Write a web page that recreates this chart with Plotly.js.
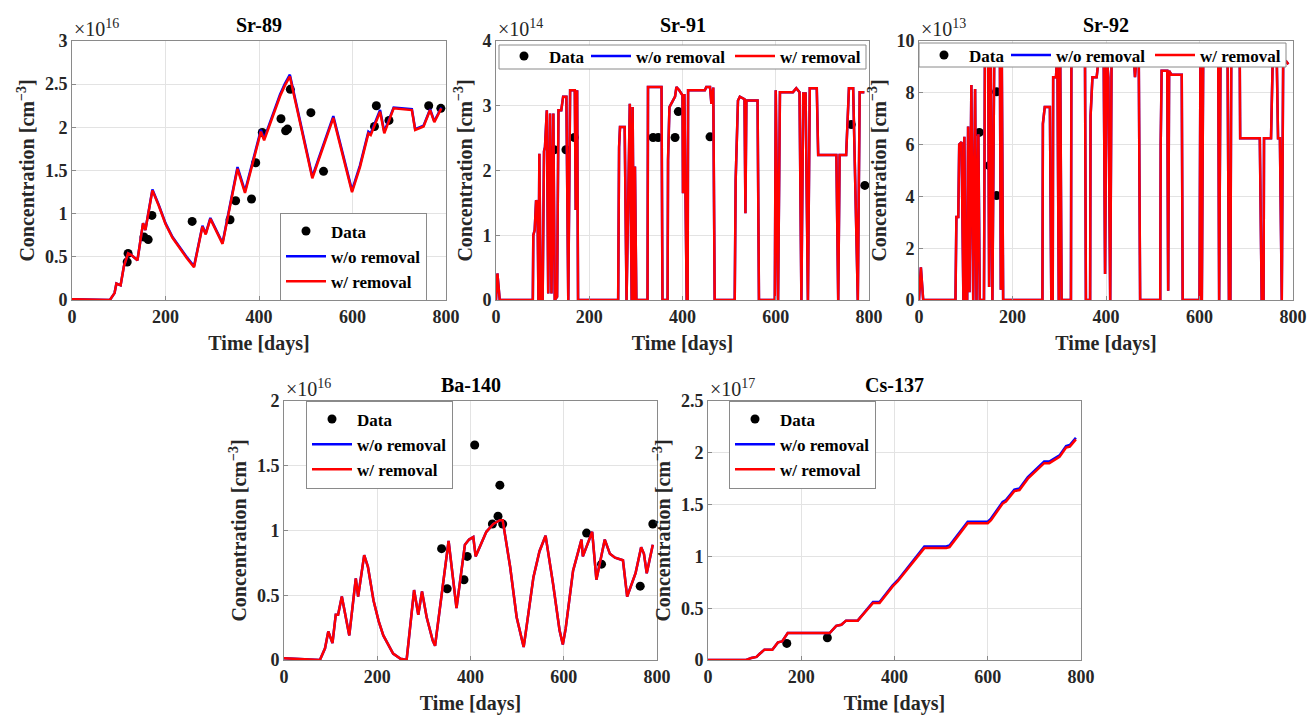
<!DOCTYPE html>
<html><head><meta charset="utf-8">
<script src="https://cdn.plot.ly/plotly-3.0.1.min.js"></script>
<style>html,body{margin:0;padding:0;background:#fff}#chart{width:1309px;height:715px}</style>
</head><body><div id="chart"></div>
<script>
// ---------------- DATA ----------------
const panelTitles = ['Sr-89', 'Sr-91', 'Sr-92', 'Ba-140', 'Cs-137'];
const exponents = ['16', '14', '13', '16', '17'];
const xTicks = [0, 200, 400, 600, 800];

// Sr-89 (x1e16)
const t89 = [0,81,91,95,104,111,120,127,140,152,157,163,172,185,200,215,230,245,261,279,286,296,322,354,370,395,404,411,424,435,445,455,466,490,514,559,599,616,634,639,659,668,688,727,734,752,766,775,790];
const red89 = [0.01,0,0.08,0.19,0.17,0.39,0.54,0.52,0.46,0.89,0.81,1.0,1.27,1.1,0.88,0.72,0.6,0.49,0.38,0.85,0.76,0.94,0.65,1.52,1.24,1.74,1.95,1.85,2.04,2.22,2.36,2.48,2.59,2.0,1.41,2.11,1.25,1.54,1.93,1.91,2.18,1.93,2.22,2.2,1.97,2.01,2.2,2.06,2.22];
const blue89 = [0.01,0,0.08,0.19,0.17,0.39,0.54,0.52,0.46,0.89,0.81,1.0,1.28,1.11,0.89,0.73,0.61,0.5,0.39,0.86,0.77,0.95,0.66,1.54,1.26,1.76,1.97,1.87,2.06,2.24,2.38,2.5,2.61,2.02,1.43,2.13,1.27,1.56,1.95,1.93,2.2,1.95,2.23,2.21,1.98,2.02,2.21,2.07,2.23];
const t89data = [118,120,154,163,171,257,338,350,384,393,407,447,457,461,467,511,538,647,651,678,763,789];
const v89data = [0.44,0.54,0.73,0.70,0.98,0.91,0.93,1.15,1.17,1.59,1.94,2.10,1.96,1.98,2.44,2.17,1.49,2.01,2.25,2.08,2.25,2.22];

// Sr-91 (x1e14)
const t91 = [0,3,8,79,80,83,86,89,91,93,96,100,103,105,109,112,116,119,123,126,131,134,140,144,151,155,159,169,171,174,176,262,264,266,276,280,287,291,293,296,298,301,325,326,355,357,368,369,372,380,384,387,393,400,401,404,409,411,412,448,451,459,462,466,469,512,514,519,523,533,535,537,561,564,598,600,605,609,637,644,651,655,659,664,669,673,688,691,730,734,737,751,757,766,769,776,780,790];
const red91 = [0,0.41,0,0,1.0,1.08,1.54,1.5,0,2.26,0,0,2.3,2.36,2.93,0.1,2.88,0.1,2.88,0,0.05,2.93,2.93,3.14,3.14,0,3.24,3.24,1.39,3.24,0,0,2.36,2.67,2.67,0,3.03,0,2.98,0,2.06,0,0,3.29,3.29,0,0,2.16,2.98,3.08,3.14,3.29,3.24,3.16,1.65,3.18,0,0,3.24,3.24,3.29,3.29,3.03,3.28,0,0,1.85,3.08,3.14,3.1,1.34,3.08,3.08,0,0,3.24,0,3.21,3.21,3.27,3.21,0,3.19,3.19,0,3.27,3.27,2.24,2.24,0,2.24,2.24,3.27,3.27,2.21,0,3.21,3.21];
const blue91 = red91;
const t91data = [125,150,168,337,348,384,391,459,762,791];
const v91data = [2.32,2.32,2.51,2.51,2.51,2.51,2.91,2.52,2.71,1.77];

// Sr-92 (x1e13)
const t92 = [0,4,9,78,80,84,86,91,95,97,100,103,105,108,112,116,120,123,127,130,139,141,148,150,153,157,161,173,175,177,180,264,265,269,280,283,286,287,293,296,299,302,305,325,326,355,357,366,367,371,380,383,386,395,398,401,405,409,412,459,462,466,470,473,516,517,519,531,533,535,540,562,564,600,602,605,608,640,642,645,660,663,666,668,686,687,729,733,737,738,753,757,765,768,772,776,779,786,790];
const red92 = [0,1.26,0,0,3.2,3.2,6.0,6.1,0,6.3,0,0,6.7,0.3,8.3,0,8.15,0,6.4,0,0,9.6,9.6,0.5,9.6,0,9.6,9.6,0.4,9.6,0,0,6.8,7.45,7.45,0,0,8.6,8.6,9.6,0,9.6,0,0,9.6,9.6,0,0,7.1,8.6,8.6,9.0,9.6,9.6,1.0,9.6,8.6,0,9.6,9.6,8.6,9.6,9.6,0,0,6.0,8.85,8.85,0.36,8.85,8.7,8.7,0,0,9.6,0,9.6,9.6,0,9.6,9.6,0,0,9.6,9.6,6.25,6.25,0,0,6.25,6.25,9.6,9.6,6.25,6.25,0,9.3,9.2,9.1];
const blue92 = red92;
const t92data = [129,150,166,166];
const v92data = [6.47,5.19,8.04,4.03];

// Ba-140 (x1e16)
const t140 = [0,77,88,95,104,111,116,124,140,154,159,172,180,192,203,213,234,250,263,279,288,296,306,319,324,353,370,388,397,406,411,420,434,449,463,469,485,499,514,518,535,548,561,577,591,598,604,620,638,641,661,670,688,699,710,727,736,754,766,772,778,791];
const red140 = [0.013,0,0.09,0.22,0.13,0.35,0.35,0.49,0.19,0.63,0.49,0.81,0.72,0.46,0.3,0.19,0.05,0.01,0,0.54,0.35,0.53,0.33,0.15,0.11,0.92,0.40,0.89,0.93,0.95,0.80,0.875,0.99,1.05,1.08,1.08,0.72,0.33,0.10,0.2,0.64,0.84,0.96,0.59,0.23,0.12,0.24,0.69,0.93,0.80,0.99,0.62,0.93,0.82,0.79,0.77,0.49,0.67,0.87,0.82,0.67,0.89];
const blue140 = red140;
const t140data = [338,350,386,393,409,447,459,463,469,649,681,764,791];
const v140data = [0.86,0.55,0.62,0.80,1.66,1.05,1.11,1.35,1.05,0.98,0.74,0.57,1.05];

// Cs-137 (x1e17)
const t137 = [0,82,93,104,111,121,138,150,159,171,261,275,286,296,321,354,368,396,407,464,511,518,557,600,607,632,639,657,668,686,721,732,754,768,776,789];
const red137 = [0,0,0.02,0.03,0.06,0.1,0.1,0.17,0.18,0.26,0.26,0.33,0.34,0.38,0.38,0.55,0.55,0.71,0.76,1.08,1.08,1.09,1.32,1.32,1.35,1.51,1.53,1.63,1.64,1.75,1.90,1.90,1.96,2.05,2.06,2.13];
const blue137 = [0,0,0.02,0.03,0.06,0.1,0.1,0.17,0.18,0.26,0.26,0.33,0.34,0.38,0.38,0.56,0.56,0.72,0.77,1.095,1.095,1.105,1.335,1.335,1.365,1.525,1.545,1.645,1.655,1.765,1.915,1.915,1.975,2.065,2.075,2.145];
const t137data = [169,256];
const v137data = [0.16,0.215];

const yRanges = [[0,3],[0,4],[0,10],[0,2],[0,2.5]];
const yDticks = [0.5,1,2,0.5,0.5];

// ---------------- LAYOUT GEOMETRY (pixels) ----------------
const W = 1309, H = 715;
const boxes = [ // plot areas: [left, right, top, bottom]
  [72, 446, 41, 300],
  [496, 869, 41, 300],
  [919, 1293, 41, 300],
  [284, 657, 401, 660],
  [708, 1081, 401, 660]
];
// legends: [left, anchor y, orientation, frame box (horizontal only) [x0,y0,x1,y1]]
const legendPos = [
  [280, 256.5, 'v', null],
  [499, 38.5, 'h', [499, 45, 866, 69]],
  [919, 37.5, 'h', [919, 43, 1286, 67]],
  [306, 444.5, 'v', null],
  [729, 444.5, 'v', null]
];
const entryWidths = [32, 89, 82]; // Data, w/o removal, w/ removal (horizontal legends)

const FONT = 'Liberation Serif, Times New Roman, serif';
const series = [
  [t89data, v89data, t89, blue89, red89],
  [t91data, v91data, t91, blue91, red91],
  [t92data, v92data, t92, blue92, red92],
  [t140data, v140data, t140, blue140, red140],
  [t137data, v137data, t137, blue137, red137]
];

const traces = [];
const layout = {
  width: W, height: H,
  margin: {l: 0, r: 0, t: 0, b: 0},
  paper_bgcolor: '#fff', plot_bgcolor: '#fff',
  font: {family: FONT, color: '#000'},
  showlegend: true,
  annotations: [],
  shapes: []
};

series.forEach((s, i) => {
  const n = i + 1;
  const xa = n === 1 ? 'x' : 'x' + n;
  const ya = n === 1 ? 'y' : 'y' + n;
  const lg = n === 1 ? 'legend' : 'legend' + n;
  const lp = legendPos[i];
  const horiz = lp[2] === 'h';
  const tr = [
    {x: s[0], y: s[1], mode: 'markers', name: 'Data', marker: {color: '#000', size: 9}},
    {x: s[2], y: s[3], mode: 'lines', name: 'w/o removal', line: {color: '#0000ff', width: 2.5}},
    {x: s[2], y: s[4], mode: 'lines', name: 'w/ removal', line: {color: '#ff0000', width: 2.5}}
  ];
  tr.forEach((t, k) => {
    t.xaxis = xa; t.yaxis = ya; t.legend = lg;
    if (horiz) t.legendwidth = entryWidths[k];
    traces.push(t);
  });

  const b = boxes[i];
  const axCommon = {
    showline: true, mirror: true, linecolor: '#8a8a8a', linewidth: 1,
    showgrid: true, gridcolor: '#e3e3e3', gridwidth: 1, zeroline: false,
    ticks: 'inside', ticklen: 4, tickcolor: '#8a8a8a',
    tickfont: {family: FONT, size: 18, weight: 'bold', color: '#262626'}
  };
  layout['xaxis' + (n === 1 ? '' : n)] = Object.assign({}, axCommon, {
    domain: [b[0] / W, b[1] / W], anchor: ya, range: [0, 800], tickvals: xTicks,
    title: {text: 'Time [days]', standoff: 10, font: {family: FONT, size: 20, weight: 'bold', color: '#262626'}}
  });
  layout['yaxis' + (n === 1 ? '' : n)] = Object.assign({}, axCommon, {
    domain: [1 - b[3] / H, 1 - b[2] / H], anchor: xa, range: yRanges[i], dtick: yDticks[i], tick0: 0,
    title: {text: 'Concentration [cm<sup>−3</sup>]', standoff: 4, font: {family: FONT, size: 20, weight: 'bold', color: '#262626'}}
  });

  if (horiz) {
    layout[lg] = {
      x: lp[0] / W, y: 1 - lp[1] / H, xanchor: 'left', yanchor: 'top',
      orientation: 'h', bgcolor: 'rgba(0,0,0,0)', borderwidth: 0, itemwidth: 40,
      font: {family: FONT, size: 17, weight: 'bold', color: '#000'}
    };
    const f = lp[3];
    layout.shapes.push({type: 'rect', xref: 'paper', yref: 'paper', layer: 'above',
      x0: f[0] / W, x1: f[2] / W, y0: 1 - f[3] / H, y1: 1 - f[1] / H,
      fillcolor: '#fff', line: {color: '#8a8a8a', width: 1}});
  } else {
    layout[lg] = {
      x: lp[0] / W, y: 1 - lp[1] / H, xanchor: 'left', yanchor: 'middle',
      orientation: 'v', bgcolor: '#fff', bordercolor: '#8a8a8a', borderwidth: 1, itemwidth: 40,
      font: {family: FONT, size: 17, weight: 'bold', color: '#000'}, tracegroupgap: 0
    };
  }

  layout.annotations.push({
    xref: 'paper', yref: 'paper', x: (b[0] + b[1]) / 2 / W, y: 1 - (b[2] - 16) / H,
    xanchor: 'center', yanchor: 'middle', showarrow: false,
    text: panelTitles[i], font: {family: FONT, size: 20, weight: 'bold', color: '#000'}
  });
  layout.annotations.push({
    xref: 'paper', yref: 'paper', x: (b[0] + 0) / W, y: 1 - (b[2] - 13) / H,
    xanchor: 'left', yanchor: 'middle', showarrow: false,
    text: '×10<sup>' + exponents[i] + '</sup>', font: {family: FONT, size: 20, color: '#262626'}
  });
});

Plotly.newPlot('chart', traces, layout, {staticPlot: true, displayModeBar: false});
</script></body></html>
